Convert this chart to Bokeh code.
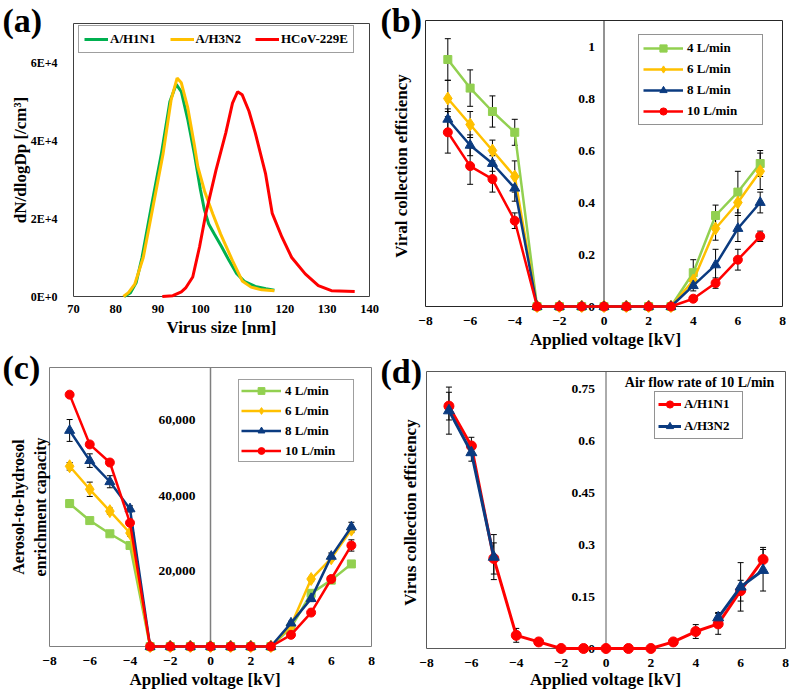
import math
from bokeh.plotting import figure
from bokeh.layouts import row, column
from bokeh.models import (Range1d, FixedTicker, Legend, LegendItem, Whisker, TeeHead,
                          ColumnDataSource, Label, Title)
from bokeh.core.properties import value
from bokeh.embed import file_html
from bokeh.resources import INLINE

FONT = "Liberation Serif"
NAN = float("nan")

# ---------------- (a) size distributions ----------------
a_x_ticks = [70, 80, 90, 100, 110, 120, 130, 140]
a_y_ticks = [0, 20000, 40000, 60000]
a_y_labels = ["0E+0", "2E+4", "4E+4", "6E+4"]

h1n1_size = [82, 83.5, 84.8, 86.2, 88.4, 90.8, 92.8, 94.3, 95.5, 97, 98.6, 100, 100.9, 102,
             103.3, 105, 106.8, 108.5, 110.5, 113, 115.5, 117.5]
h1n1_conc = [0, 1000, 3500, 10000, 23000, 36700, 50000, 54400, 52500, 45500, 36500, 27500,
             22500, 18500, 16000, 12800, 9200, 6000, 3800, 2600, 2000, 1600]
h3n2_size = [81.8, 83, 84.5, 86.5, 88.8, 91.2, 93.1, 94.5, 95.5, 97, 98.6, 99.4, 101, 102.9,
             104.8, 107.6, 109.9, 112, 114.5, 117.5]
h3n2_conc = [0, 1000, 3200, 10000, 23000, 36700, 50500, 56000, 54800, 48500, 38700, 33300,
             27000, 21300, 16000, 9200, 4000, 2400, 1700, 1500]
hcov_size = [91, 93.5, 95.5, 96.6, 98.2, 99.8, 101.3, 103.7, 106, 107.6, 108.8, 109.9, 111.5,
             113, 115.4, 117, 119.3, 121.6, 124.8, 127.9, 131, 136.5]
hcov_conc = [0, 200, 1200, 2300, 5000, 12700, 21300, 32400, 41900, 49600, 52500, 51700, 47500,
             41900, 31600, 21300, 15200, 10000, 5800, 2800, 1500, 1300]

# ---------------- shared voltage axis ----------------
volt = [-7, -6, -5, -4, -3, -2, -1, 0, 1, 2, 3, 4, 5, 6, 7]
volt_ticks = [-8, -6, -4, -2, 0, 2, 4, 6, 8]

# ---------------- (b) viral collection efficiency ----------------
b_y_ticks = [0, 0.2, 0.4, 0.6, 0.8, 1]
b_y_labels = ["0", "0.2", "0.4", "0.6", "0.8", "1"]
b_eff_4 = [0.95, 0.84, 0.75, 0.67, 0, 0, 0, 0, 0, 0, 0, 0.13, 0.35, 0.44, 0.55]
b_err_4 = [0.08, 0.07, 0.06, 0.05, 0, 0, 0, 0, 0, 0, 0, 0.05, 0.04, 0.08, 0.05]
b_eff_6 = [0.80, 0.70, 0.60, 0.50, 0, 0, 0, 0, 0, 0, 0, 0.10, 0.30, 0.40, 0.52]
b_err_6 = [0.07, 0.05, 0.04, 0.06, 0, 0, 0, 0, 0, 0, 0, 0.03, 0.045, 0.05, 0.07]
b_eff_8 = [0.72, 0.62, 0.55, 0.455, 0, 0, 0, 0, 0, 0, 0, 0.08, 0.16, 0.30, 0.40]
b_err_8 = [0.04, 0.04, 0.03, 0.05, 0, 0, 0, 0, 0, 0, 0, 0.02, 0.06, 0.05, 0.04]
b_eff_10 = [0.67, 0.54, 0.49, 0.33, 0, 0, 0, 0, 0, 0, 0, 0.03, 0.09, 0.18, 0.27]
b_err_10 = [0.08, 0.07, 0.05, 0.03, 0, 0, 0, 0, 0, 0, 0, 0.01, 0.02, 0.04, 0.02]

# ---------------- (c) enrichment capacity ----------------
c_y_ticks = [0, 20000, 40000, 60000]
c_y_labels = ["0", "20,000", "40,000", "60,000"]
c_cap_4 = [37900, 33400, 29900, 26800, 0, 0, 0, 0, 0, 0, 0, 5000, 14100, 17600, 21900]
c_err_4 = [900, 500, 500, 500, 0, 0, 0, 0, 0, 0, 0, 300, 500, 500, 500]
c_cap_6 = [47800, 41700, 35900, 30100, 0, 0, 0, 0, 0, 0, 0, 5600, 17900, 23400, 31000]
c_err_6 = [1000, 1900, 800, 800, 0, 0, 0, 0, 0, 0, 0, 300, 600, 600, 800]
c_cap_8 = [57300, 49300, 43700, 36500, 0, 0, 0, 0, 0, 0, 0, 6200, 12700, 23900, 31700]
c_err_8 = [2900, 1800, 1600, 800, 0, 0, 0, 0, 0, 0, 0, 500, 800, 900, 1250]
c_cap_10 = [66800, 53600, 48800, 32800, 0, 0, 0, 0, 0, 0, 0, 3100, 9000, 17900, 26800]
c_err_10 = [700, 600, 600, 600, 0, 0, 0, 0, 0, 0, 0, 300, 500, 600, 1500]

# ---------------- (d) virus collection efficiency at 10 L/min ----------------
d_y_ticks = [0, 0.15, 0.3, 0.45, 0.6, 0.75]
d_y_labels = ["0", "0.15", "0.3", "0.45", "0.6", "0.75"]
d_h1n1 = [0.70, 0.585, 0.26, 0.038, 0.019, 0, 0, 0, 0, 0, 0.019, 0.049, 0.071, 0.167, 0.257]
d_h1n1_err = [0.04, 0.025, 0.045, 0.02, 0, 0, 0, 0, 0, 0, 0, 0.02, 0.03, 0.03, 0.035]
d_h3n2 = [0.687, 0.566, 0.264, NAN, NAN, NAN, NAN, NAN, NAN, NAN, NAN, NAN, 0.089, 0.178, 0.226]
d_h3n2_err = [0.068, 0.025, 0.065, 0, 0, 0, 0, 0, 0, 0, 0, 0, 0.015, 0.07, 0.06]

GREEN_A = "#00B050"
GREEN = "#92D050"
YELLOW = "#FFC000"
NAVY = "#0B3B80"
RED = "#FF0000"


def make_fig(w, h, box, xlim, ylim, pb, frame_color, fl, fr):
    """box = visible plot box (canvas px); fl/fr = Bokeh frame left/right (canvas px)."""
    L, T, R, B = box
    sx = (xlim[1] - xlim[0]) / (R - L)
    sy = (ylim[1] - ylim[0]) / (B - T)
    p = figure(width=w, height=h, output_backend="svg", toolbar_location=None,
               x_range=Range1d(xlim[0] - (L - fl) * sx, xlim[1] + (fr - R) * sx),
               y_range=Range1d(ylim[0] - pb * sy, ylim[1] + sy),
               min_border_left=fl, min_border_right=w - fr,
               min_border_top=T - 1, min_border_bottom=h - B - pb,
               background_fill_color="white", border_fill_color="white")
    p.outline_line_color = None
    p.xgrid.visible = False
    p.ygrid.visible = False
    p.quad(left=[xlim[0]], right=[xlim[1]], bottom=[ylim[0]], top=[ylim[1]],
           fill_color=None, line_color=frame_color, line_width=1)
    return p


def style_axis(ax, ticks, label, label_size, std, title_std, title_size="17px"):
    ax.ticker = FixedTicker(ticks=ticks)
    ax.axis_line_color = None
    ax.major_tick_line_color = None
    ax.minor_tick_line_color = None
    ax.major_tick_in = 0
    ax.major_tick_out = 0
    ax.minor_tick_in = 0
    ax.minor_tick_out = 0
    ax.major_label_text_font = FONT
    ax.major_label_text_font_style = "bold"
    ax.major_label_text_font_size = label_size
    ax.major_label_text_color = "black"
    ax.major_label_standoff = std
    ax.axis_label = label
    ax.axis_label_text_font = FONT
    ax.axis_label_text_font_style = "bold"
    ax.axis_label_text_font_size = title_size
    ax.axis_label_text_color = "black"
    ax.axis_label_standoff = title_std


def inner_y_labels(p, x0, ticks, labels, xoff, size="13.5px"):
    p.text(x=[x0] * len(ticks), y=ticks, text=labels, x_offset=xoff,
           text_align="right", text_baseline="middle", text_font=value(FONT),
           text_font_style="bold", text_font_size=size, text_color="black")


def vertical_title(p, x0, y0, text, xoff, size):
    p.text(x=[x0], y=[y0], text=[text], x_offset=xoff, angle=math.pi / 2,
           text_align="center", text_baseline="middle", text_font=value(FONT),
           text_font_style="bold", text_font_size=size, text_color="black")


def below_title(p, text, offset, standoff):
    p.add_layout(Title(text=text, align="left", vertical_align="top", offset=offset,
                       standoff=standoff, text_font=FONT, text_font_style="bold",
                       text_font_size="17px", text_color="black"), "below")


def add_err(p, xs, ys, es):
    pts = [(x, y, e) for x, y, e in zip(xs, ys, es) if e > 0 and not math.isnan(y)]
    src = ColumnDataSource(dict(x=[q[0] for q in pts],
                                lo=[q[1] - q[2] for q in pts],
                                hi=[q[1] + q[2] for q in pts]))
    wk = Whisker(source=src, base="x", lower="lo", upper="hi", line_color="black",
                 line_width=1,
                 lower_head=TeeHead(size=6, line_color="black", line_width=1),
                 upper_head=TeeHead(size=6, line_color="black", line_width=1))
    p.add_layout(wk)


def add_series(p, xs, ys, color, marker, size, lw):
    r1 = p.line(xs, ys, line_color=color, line_width=lw)
    r2 = p.scatter(xs, ys, marker=marker, size=size, fill_color=color, line_color=color)
    return [r1, r2]


def style_legend(leg, border):
    leg.label_text_font = FONT
    leg.label_text_font_style = "bold"
    leg.label_text_font_size = "13px"
    leg.label_text_color = "black"
    leg.border_line_color = border
    leg.border_line_width = 1
    leg.background_fill_color = "white"
    leg.background_fill_alpha = 1
    leg.margin = 0


def panel_label(p, text, offset, standoff):
    p.add_layout(Title(text=text, align="left", vertical_align="bottom", offset=offset,
                       standoff=standoff, text_font=FONT, text_font_style="bold",
                       text_font_size="34px", text_color="black"), "above")


# ================= (a) =================
A_XLIM = (70, 140)
A_YLIM = (0, 70000)
A_BOX = (73, 23, 369, 296)
pa = make_fig(380, 344, A_BOX, A_XLIM, A_YLIM, 8, "#404040", 0, 372)
style_axis(pa.xaxis[0], a_x_ticks, "", "12.5px", 0, 0)
pa.yaxis.visible = False
below_title(pa, "Virus size [nm]", 166, 5)
inner_y_labels(pa, A_XLIM[0], a_y_ticks, a_y_labels, -16, "12px")
vertical_title(pa, A_XLIM[0], sum(A_YLIM) / 2, "dN/dlogDp [/cm\u00b3]", -53.5, "17px")
ra1 = pa.line(h1n1_size, h1n1_conc, line_color=GREEN_A, line_width=3)
ra2 = pa.line(h3n2_size, h3n2_conc, line_color=YELLOW, line_width=3)
ra3 = pa.line(hcov_size, hcov_conc, line_color=RED, line_width=3)
leg_a = Legend(items=[LegendItem(label="A/H1N1", renderers=[ra1]),
                      LegendItem(label="A/H3N2", renderers=[ra2]),
                      LegendItem(label="HCoV-229E", renderers=[ra3])],
               location=(78, 251), orientation="horizontal")
style_legend(leg_a, "#404040")
leg_a.glyph_width = 24
leg_a.glyph_height = 14
leg_a.label_height = 14
leg_a.label_standoff = 2
leg_a.spacing = 14
leg_a.padding = 5
pa.add_layout(leg_a)
panel_label(pa, "(a)", 2, -32)

# ================= (b) =================
B_BOX = (45, 20, 402, 306)
pbf = make_fig(409, 352, B_BOX, (-8, 8), (0, 1.1), 6, "#262626", 44, 406)
style_axis(pbf.xaxis[0], volt_ticks, "Applied voltage [kV]", "13.5px", 4, 2)
style_axis(pbf.yaxis[0], [], "Viral collection efficiency", "0px", 0, 14)
pbf.segment(x0=[0], y0=[0], x1=[0], y1=[1.1], line_color="#262626", line_width=1)
inner_y_labels(pbf, 0, b_y_ticks, b_y_labels, -9)
for ys, es in ((b_eff_4, b_err_4), (b_eff_6, b_err_6), (b_eff_8, b_err_8), (b_eff_10, b_err_10)):
    add_err(pbf, volt, ys, es)
rb4 = add_series(pbf, volt, b_eff_4, GREEN, "square", 8, 2.5)
rb6 = add_series(pbf, volt, b_eff_6, YELLOW, "diamond", 13, 2.5)
rb8 = add_series(pbf, volt, b_eff_8, NAVY, "triangle", 10, 2.5)
rb10 = add_series(pbf, volt, b_eff_10, RED, "circle", 9, 2.5)
leg_b = Legend(items=[LegendItem(label="4 L/min", renderers=rb4),
                      LegendItem(label="6 L/min", renderers=rb6),
                      LegendItem(label="8 L/min", renderers=rb8),
                      LegendItem(label="10 L/min", renderers=rb10)],
               location=(214, 187))
style_legend(leg_b, "#262626")
leg_b.glyph_width = 40
leg_b.glyph_height = 18
leg_b.label_height = 18
leg_b.label_width = 71
leg_b.label_standoff = 4
leg_b.spacing = 3
leg_b.padding = 4
pbf.add_layout(leg_b)
panel_label(pbf, "(b)", -44, -38)

# ================= (c) =================
C_XLIM = (-8, 8)
C_YLIM = (0, 74000)
C_BOX = (49, 23, 371, 302)
pc = make_fig(380, 352, C_BOX, C_XLIM, C_YLIM, 6, "#7F7F7F", 0, 372)
style_axis(pc.xaxis[0], volt_ticks, "", "13.5px", 4, 0)
pc.yaxis.visible = False
below_title(pc, "Applied voltage [kV]", 129, 4)
vertical_title(pc, C_XLIM[0], sum(C_YLIM) / 2, "Aerosol-to-hydrosol", -31, "16px")
vertical_title(pc, C_XLIM[0], sum(C_YLIM) / 2, "enrichment capacity", -9, "16px")
pc.segment(x0=[0], y0=[0], x1=[0], y1=[74000], line_color="#7F7F7F", line_width=1.5)
inner_y_labels(pc, 0, c_y_ticks, c_y_labels, -15)
for ys, es in ((c_cap_4, c_err_4), (c_cap_6, c_err_6), (c_cap_8, c_err_8), (c_cap_10, c_err_10)):
    add_err(pc, volt, ys, es)
rc4 = add_series(pc, volt, c_cap_4, GREEN, "square", 8, 2.5)
rc6 = add_series(pc, volt, c_cap_6, YELLOW, "diamond", 13, 2.5)
rc8 = add_series(pc, volt, c_cap_8, NAVY, "triangle", 10, 2.5)
rc10 = add_series(pc, volt, c_cap_10, RED, "circle", 9, 2.5)
leg_c = Legend(items=[LegendItem(label="4 L/min", renderers=rc4),
                      LegendItem(label="6 L/min", renderers=rc6),
                      LegendItem(label="8 L/min", renderers=rc8),
                      LegendItem(label="10 L/min", renderers=rc10)],
               location=(238, 190))
style_legend(leg_c, "#404040")
leg_c.glyph_width = 40
leg_c.glyph_height = 17
leg_c.label_height = 17
leg_c.label_width = 66
leg_c.label_standoff = 4
leg_c.spacing = 3
leg_c.padding = 2
pc.add_layout(leg_c)
panel_label(pc, "(c)", 2, -39)

# ================= (d) =================
D_BOX = (46, 19, 405, 296)
pd = make_fig(409, 344, D_BOX, (-8, 8), (0, 0.8), 6, "#595959", 44, 406)
style_axis(pd.xaxis[0], volt_ticks, "Applied voltage [kV]", "13.5px", 4, 0)
style_axis(pd.yaxis[0], [], "Virus collection efficiency", "0px", 0, 5)
pd.segment(x0=[0], y0=[0], x1=[0], y1=[0.8], line_color="#595959", line_width=1)
inner_y_labels(pd, 0, d_y_ticks, d_y_labels, -11)
add_err(pd, volt, d_h1n1, d_h1n1_err)
add_err(pd, volt, d_h3n2, d_h3n2_err)
rd1 = add_series(pd, volt, d_h1n1, RED, "circle", 10, 3)
rd2 = add_series(pd, volt, d_h3n2, NAVY, "triangle", 11, 3)
leg_d = Legend(items=[LegendItem(label="A/H1N1", renderers=rd1),
                      LegendItem(label="A/H3N2", renderers=rd2)],
               location=(230, 215))
style_legend(leg_d, "#262626")
leg_d.glyph_width = 23
leg_d.glyph_height = 18
leg_d.label_height = 18
leg_d.label_width = 55
leg_d.label_standoff = 3
leg_d.spacing = 4
leg_d.padding = 3
pd.add_layout(leg_d)
pd.add_layout(Label(x=7.51, y=0.768, text="Air flow rate of 10 L/min", text_font=FONT,
                    text_font_style="bold", text_font_size="14px", text_align="right",
                    text_baseline="middle", text_color="black"))
panel_label(pd, "(d)", -44, -39)

layout = row(column(pa, pc), column(pbf, pd))
open("out.html", "w").write(file_html(layout, INLINE))
